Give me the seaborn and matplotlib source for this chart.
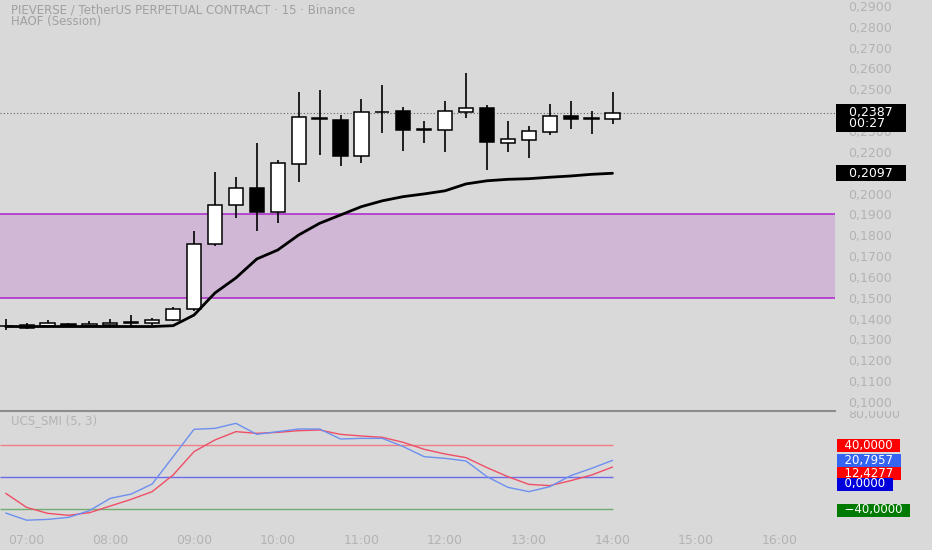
import numpy as np
import pandas as pd
import seaborn as sns
import matplotlib
matplotlib.use("Agg")
import matplotlib.pyplot as plt
from matplotlib.ticker import FuncFormatter
from matplotlib.transforms import Bbox, TransformedBbox

# 15-minute candles, 06:45 .. 14:00
times = ["06:45", "07:00", "07:15", "07:30", "07:45", "08:00", "08:15", "08:30",
         "08:45", "09:00", "09:15", "09:30", "09:45", "10:00", "10:15", "10:30",
         "10:45", "11:00", "11:15", "11:30", "11:45", "12:00", "12:15", "12:30",
         "12:45", "13:00", "13:15", "13:30", "13:45", "14:00"]
opens = [0.1365, 0.1356, 0.1365, 0.1376, 0.1364, 0.1368, 0.1380, 0.1378,
         0.1392, 0.1448, 0.1756, 0.1944, 0.2027, 0.1911, 0.2142, 0.2362,
         0.2354, 0.2179, 0.2389, 0.2394, 0.2305, 0.2306, 0.2391, 0.2410,
         0.2242, 0.2257, 0.2295, 0.2370, 0.2358, 0.2357]
highs = [0.1397, 0.1378, 0.1392, 0.1380, 0.1390, 0.1397, 0.1416, 0.1402,
         0.1458, 0.1820, 0.2102, 0.2078, 0.2242, 0.2163, 0.2487, 0.2498,
         0.2378, 0.2453, 0.2518, 0.2413, 0.2346, 0.2446, 0.2577, 0.2426,
         0.2349, 0.2322, 0.2429, 0.2446, 0.2394, 0.2487]
lows = [0.1346, 0.1352, 0.1362, 0.1360, 0.1362, 0.1365, 0.1365, 0.1370,
        0.1390, 0.1437, 0.1748, 0.1884, 0.1820, 0.1860, 0.2056, 0.2183,
        0.2131, 0.2147, 0.2290, 0.2203, 0.2242, 0.2199, 0.2362, 0.2111,
        0.2199, 0.2171, 0.2279, 0.2311, 0.2286, 0.2333]
closes = [0.1365, 0.1370, 0.1378, 0.1364, 0.1373, 0.1381, 0.1382, 0.1394,
          0.1448, 0.1756, 0.1944, 0.2027, 0.1911, 0.2144, 0.2367, 0.2358,
          0.2179, 0.2389, 0.2392, 0.2306, 0.2307, 0.2394, 0.2410, 0.2245,
          0.2261, 0.2301, 0.2370, 0.2357, 0.2360, 0.2387]
haof = [0.1362, 0.1362, 0.1362, 0.1362, 0.1362, 0.1362, 0.1362, 0.1362,
        0.1366, 0.1417, 0.1523, 0.1595, 0.1686, 0.1729, 0.1801, 0.1857,
        0.1897, 0.1937, 0.1965, 0.1985, 0.1998, 0.2013, 0.2046, 0.2061,
        0.2068, 0.2071, 0.2078, 0.2084, 0.2092, 0.2097]
smi = [-45, -54, -53, -50.5, -42, -26.7, -21.3, -8.75, 25.4, 59.6, 60.8, 67.1,
       53.3, 56.7, 60, 60, 47.5, 48.3, 48.3, 38, 25.4, 23.3, 20, 0.4, -12.9,
       -18.3, -12.1, 1.7, 10.8, 20.7957]
smi_signal = [-20.4, -38, -45.4, -47.9, -44.6, -36.3, -27.9, -18.3, 2.5, 31.7,
              46.3, 56.7, 54.6, 55.8, 57.9, 58.75, 53.3, 51.25, 49.6, 43.3,
              34.6, 28.75, 24.2, 11.7, 0.4, -9.2, -10.8, -4.6, 2.5, 12.4277]
zone_low, zone_high = 0.15, 0.19
levels = {"upper": 40, "mid": 0, "lower": -40}
price_ticks = np.round(np.arange(0.10, 0.2901, 0.01), 2)
smi_ticks = [80]  # the 40 / 0 / -40 ticks sit under their coloured labels
hour_ticks = list(range(7, 17))
countdown = "00:27"

BG = "#d9d9d9"
LABEL = "#b3b3b3"
TITLE = "#a0a0a0"


def fmt(v):
    s = f"{abs(v):.4f}".replace(".", ",")
    return ("\u2212" + s) if v < 0 else s


df = pd.DataFrame({"time": times, "open": opens, "high": highs, "low": lows,
                   "close": closes, "haof": haof, "smi": smi, "signal": smi_signal})
t = pd.to_datetime(df["time"], format="%H:%M")
df["hour"] = t.dt.hour + t.dt.minute / 60

sns.set_theme(style="white", rc={"axes.facecolor": BG, "figure.facecolor": BG})
plt.rcParams["font.family"] = ["DejaVu Sans"]

fig = plt.figure(figsize=(9.32, 5.5), dpi=100)
W, H = 932, 550
plot_w = 835
ax = fig.add_axes([0, (H - 410) / H, plot_w / W, 410 / H])
ax2 = fig.add_axes([0, (H - 530) / H, plot_w / W, 119 / H])

# x range: first candle ~6px from left edge, ~83.7px per hour
px_per_hour = 83.7
x0 = df["hour"].iloc[0] - 5.7 / px_per_hour
x1 = x0 + plot_w / px_per_hour
for a in (ax, ax2):
    a.set_xlim(x0, x1)
    for s in a.spines.values():
        s.set_visible(False)
    a.yaxis.tick_right()
    a.tick_params(axis="y", length=0, pad=9.5, labelsize=9, labelcolor=LABEL)

# price zone
ax.axhspan(zone_low, zone_high, facecolor="#cfb7d5", edgecolor="none", zorder=0)
for lv in (zone_low, zone_high):
    ax.axhline(lv, color="#b23ccc", lw=1.3, zorder=1)

# candles
up = df["close"] >= df["open"]
ax.vlines(df["hour"], df["low"], df["high"], color="black", lw=1.2, zorder=2)
body = (df["close"] - df["open"]).abs().clip(lower=0.00005)
ax.bar(df["hour"], body, bottom=df[["open", "close"]].min(axis=1), width=0.17,
       color=np.where(up, "white", "black"), edgecolor="black", lw=1.1, zorder=3)

sns.lineplot(data=df, x="hour", y="haof", ax=ax, color="black", lw=2.0, zorder=4)
last = df["close"].iloc[-1]
ax.axhline(last, color="#666666", lw=0.8, ls=(0, (1, 2)), zorder=1)


def price_fmt(v, p):
    # labels under the last-price / HAOF boxes are hidden
    if abs(v - last) < 0.005 or abs(v - haof[-1]) < 0.005:
        return ""
    return fmt(v)


ax.set_ylim(0.10 - 8 / 2085, 0.10 + 402 / 2085)
ax.set_yticks(price_ticks)
ax.yaxis.set_major_formatter(FuncFormatter(price_fmt))
ax.set_xticks([])
ax.set_xlabel("")
ax.set_ylabel("")

box = dict(boxstyle="square,pad=0.12", ec="none")
ytr = ax.get_yaxis_transform()
ax.annotate("   " + fmt(last) + "   \n   " + countdown, xy=(1, last), xycoords=ytr,
            xytext=(2, -5), textcoords="offset pixels", ha="left", va="center",
            color="white", fontsize=9, linespacing=0.85, annotation_clip=False, zorder=10,
            bbox=dict(box, fc="black"))
ax.annotate("   " + fmt(haof[-1]) + "   ", xy=(1, haof[-1]), xycoords=ytr,
            xytext=(2, 0), textcoords="offset pixels", ha="left", va="center",
            color="white", fontsize=9, annotation_clip=False, zorder=10,
            bbox=dict(box, fc="black"))

fig.text(11 / W, 1 - 10 / H, "PIEVERSE / TetherUS PERPETUAL CONTRACT · 15 · Binance",
         color=TITLE, fontsize=8.5, va="center", ha="left")
fig.text(11 / W, 1 - 22 / H, "HAOF (Session)", color=TITLE, fontsize=8.5,
         va="center", ha="left")

# SMI panel
x_end = df["hour"].iloc[-1]
ax2.hlines(levels["upper"], x0, x_end, color="#ef7f86", lw=1.0, zorder=1)
ax2.hlines(levels["mid"], x0, x_end, color="#6b6bea", lw=1.0, zorder=1)
ax2.hlines(levels["lower"], x0, x_end, color="#6fae6f", lw=1.0, zorder=1)
sns.lineplot(data=df, x="hour", y="smi", ax=ax2, color="#6d8ff0", lw=1.0, zorder=3)
sns.lineplot(data=df, x="hour", y="signal", ax=ax2, color="#ef4e66", lw=1.0, zorder=2)
ax2.set_ylim(-(530 - 477) / 0.8, (477 - 411) / 0.8)
ax2.set_yticks(smi_ticks)
ax2.yaxis.set_major_formatter(FuncFormatter(lambda v, p: fmt(v)))
ax2.set_xticks(hour_ticks)
ax2.set_xticklabels([f"{h:02d}:00" for h in hour_ticks])
ax2.tick_params(axis="x", length=0, pad=3, labelsize=9, labelcolor=LABEL)
ax2.set_xlabel("")
ax2.set_ylabel("")
ax2.spines["top"].set_visible(True)
ax2.spines["top"].set_color("#8c8c8c")
ax2.spines["top"].set_linewidth(1.5)
fig.text(11 / W, 1 - 421 / H, "UCS_SMI (5, 3)", color=LABEL, fontsize=8.5,
         va="center", ha="left")

clip = TransformedBbox(Bbox([[0, 0], [1, (H - 411) / H]]), fig.transFigure)
for lbl in ax2.yaxis.get_ticklabels():
    lbl.set_clip_on(True)
    lbl.set_clip_box(clip)

ytr2 = ax2.get_yaxis_transform()
smi_labels = [
    (levels["upper"], "#ff0000", 0),
    (smi[-1], "#3565f0", 0),
    (smi_signal[-1], "#ff0000", -6),
    (levels["mid"], "#0000dd", -7),
    (levels["lower"], "#007a00", -1),
]
for val, col, dy in smi_labels:
    ax2.annotate("  " + fmt(val) + "  ", xy=(1, val), xycoords=ytr2, xytext=(2, dy),
                 textcoords="offset pixels", ha="left", va="center", color="white",
                 fontsize=8.5, annotation_clip=False, zorder=10,
                 bbox=dict(boxstyle="square,pad=0.0", fc=col, ec="none"))

fig.savefig("out.png", dpi=100, facecolor=BG)
